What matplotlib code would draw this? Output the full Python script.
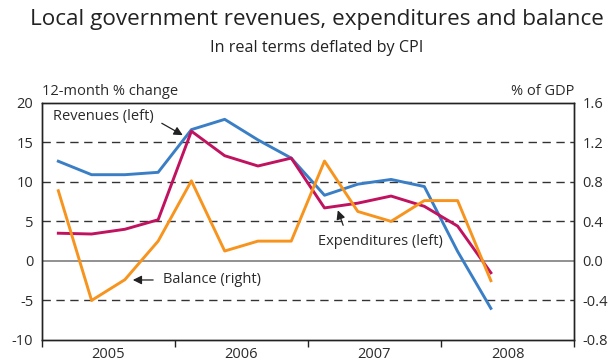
import matplotlib
matplotlib.use("Agg")
import matplotlib.pyplot as plt
import numpy as np

# Quarterly data, Q1 2005 - Q2 2008
quarters = ["2005Q1", "2005Q2", "2005Q3", "2005Q4",
            "2006Q1", "2006Q2", "2006Q3", "2006Q4",
            "2007Q1", "2007Q2", "2007Q3", "2007Q4",
            "2008Q1", "2008Q2"]
revenues = [12.6, 10.9, 10.9, 11.2, 16.6, 17.9, 15.3, 13.0,
            8.3, 9.7, 10.3, 9.4, 1.2, -6.0]
expenditures = [3.5, 3.4, 4.0, 5.2, 16.4, 13.3, 12.0, 13.0,
                6.7, 7.3, 8.2, 6.9, 4.4, -1.5]
balance = [0.71, -0.40, -0.19, 0.20, 0.81, 0.10, 0.20, 0.20,
           1.01, 0.50, 0.40, 0.61, 0.61, -0.20]
years = ["2005", "2006", "2007", "2008"]

left_ticks = [-10, -5, 0, 5, 10, 15, 20]
right_ticks = [-0.8, -0.4, 0.0, 0.4, 0.8, 1.2, 1.6]

BLUE = "#3a7fc6"
MAGENTA = "#c0125f"
ORANGE = "#f7941e"
TEXT = "#2b2b2b"

plt.rcParams["font.family"] = ["Open Sans", "DejaVu Sans"]

fig = plt.figure(figsize=(6.12, 3.63), dpi=100)
ax = fig.add_axes([0.0681, 0.0634, 0.8699, 0.6536])
ax2 = ax.twinx()

x = np.arange(len(quarters)) + 0.5

ax.set_xlim(0, 16)
ax.set_ylim(-10, 20)
ax2.set_ylim(-0.8, 1.6)

# Gridlines
for v in [15, 10, 5, -5]:
    ax.axhline(v, color="#333333", lw=1.0, dashes=(6, 4), zorder=1)
ax.axhline(0, color="#888888", lw=1.3, zorder=1)

ax.plot(x, revenues, color=BLUE, lw=2.1, zorder=3)
ax.plot(x, expenditures, color=MAGENTA, lw=2.1, zorder=3)
ax2.plot(x, balance, color=ORANGE, lw=2.1, zorder=3)

# Axes styling
for a in (ax, ax2):
    for s in a.spines.values():
        s.set_color("#222222")
        s.set_linewidth(1.0)

ax.set_yticks(left_ticks)
ax.set_yticklabels([str(t) for t in left_ticks], fontsize=10.5, color=TEXT)
ax.tick_params(axis="y", length=0, pad=6)
ax2.set_yticks(right_ticks)
ax2.set_yticklabels([f"{t:.1f}" for t in right_ticks], fontsize=10.5, color=TEXT)
ax2.tick_params(axis="y", length=0, pad=6)

ax.set_xticks([0, 4, 8, 12, 16])
ax.set_xticklabels([])
ax.tick_params(axis="x", length=5, width=1.0, color="#222222", direction="out")
ax.set_xticks([2, 6, 10, 14], minor=True)
ax.set_xticklabels(years, minor=True, fontsize=10.5, color=TEXT)
ax.tick_params(axis="x", which="minor", length=0, pad=5)

# Titles and axis captions
fig.text(0.518, 0.945, "Local government revenues, expenditures and balance",
         ha="center", va="center", fontsize=16.2, color="#222222")
fig.text(0.518, 0.868, "In real terms deflated by CPI",
         ha="center", va="center", fontsize=11.6, color="#222222")
ax.text(0.0, 1.015, "12-month % change", transform=ax.transAxes,
        ha="left", va="bottom", fontsize=10.5, color=TEXT)
ax.text(1.0, 1.015, "% of GDP", transform=ax.transAxes,
        ha="right", va="bottom", fontsize=10.5, color=TEXT)

# Series labels with pointer arrows
arrow = dict(arrowstyle="-|>", color="#222222", lw=0.9, mutation_scale=13,
             shrinkA=0, shrinkB=0)
ax.text(0.35, 18.3, "Revenues (left)", fontsize=10.5, color=TEXT,
        ha="left", va="center")
ax.annotate("", xy=(4.24, 15.9), xytext=(3.61, 17.4), arrowprops=arrow)

ax.text(8.3, 2.4, "Expenditures (left)", fontsize=10.5, color=TEXT,
        ha="left", va="center")
ax.annotate("", xy=(8.9, 6.4), xytext=(9.06, 4.5), arrowprops=arrow)

ax2.text(3.64, -0.193, "Balance (right)", fontsize=10.5, color=TEXT,
         ha="left", va="center")
ax2.annotate("", xy=(2.74, -0.193), xytext=(3.35, -0.193), arrowprops=arrow)

fig.savefig("out.png", dpi=100)
